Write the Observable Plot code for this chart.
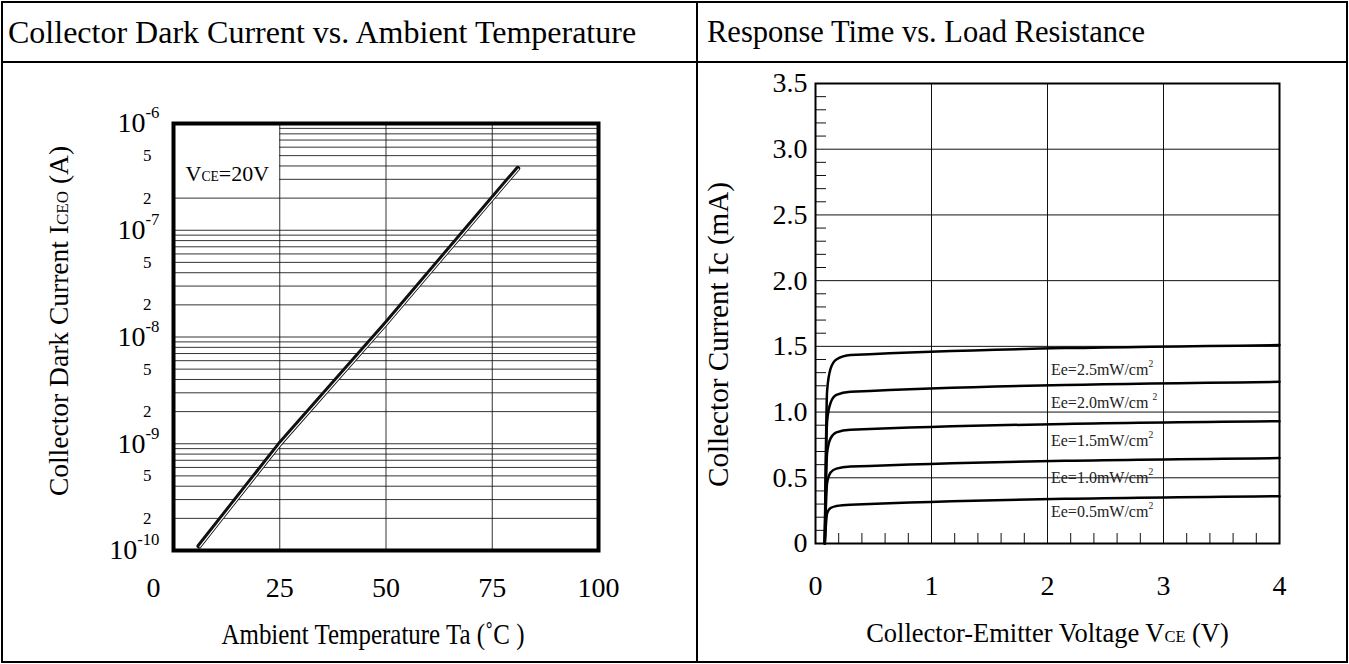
<!DOCTYPE html>
<html><head><meta charset="utf-8">
<script src="https://cdn.jsdelivr.net/npm/d3@7"></script>
<script src="https://cdn.jsdelivr.net/npm/@observablehq/plot@0.6"></script>
<style>
body{margin:0;background:#fff;font-family:"Liberation Serif","Times New Roman",serif;color:#000}
#wrap{position:relative;width:1349px;height:664px;overflow:hidden;background:#fff}
.box{position:absolute;left:1px;top:1px;width:1343px;height:658px;border:2px solid #000}
.hline{position:absolute;left:1px;top:61px;width:1347px;height:2px;background:#000}
.vline{position:absolute;left:696px;top:1px;width:2px;height:662px;background:#000}
.title{position:absolute;top:14px;font-size:32px;line-height:36px;white-space:nowrap}
#left{position:absolute;left:0;top:62px}
#right{position:absolute;left:697px;top:62px}
</style></head>
<body>
<div id="wrap">
  <div class="box"></div>
  <div class="hline"></div>
  <div class="vline"></div>
  <div class="title" style="left:8px">Collector Dark Current vs. Ambient Temperature</div>
  <div class="title" style="left:707px;font-size:30.5px">Response Time vs. Load Resistance</div>
  <div id="left"></div>
  <div id="right"></div>
</div>
<script>
// ---------- Left chart data ----------
const tempC = [6, 25, 50, 75, 81];
const darkCurrentA = [1.1e-10, 1e-9, 1.35e-8, 2e-7, 3.8e-7];
const tempTicks = [0, 25, 50, 75, 100];
const tempGrid = [25, 50, 75];
const decadeTicks = [1e-10, 1e-9, 1e-8, 1e-7, 1e-6];
const mantissaLabels = [2, 5];
const mantissaGrid = [1, 2, 3, 4, 5, 6, 7, 8, 9];

// ---------- Right chart data ----------
const vceV = [0.08, 0.10, 0.13, 0.18, 0.30, 4.0];
const icEe25 = [0, 1.16, 1.33, 1.40, 1.435, 1.51];
const icEe20 = [0, 0.93, 1.07, 1.13, 1.155, 1.23];
const icEe15 = [0, 0.69, 0.80, 0.845, 0.865, 0.93];
const icEe10 = [0, 0.46, 0.54, 0.57, 0.585, 0.65];
const icEe05 = [0, 0.23, 0.27, 0.285, 0.295, 0.36];
const eeLabels = ["Ee=2.5mW/cm^{2}", "Ee=2.0mW/cm ^{2}", "Ee=1.5mW/cm^{2}", "Ee=1.0mW/cm^{2}", "Ee=0.5mW/cm^{2}"];
const vceTicks = [0, 1, 2, 3, 4];
const vceGrid = [1, 2, 3];
const vceMinor = [0.2, 0.4, 0.6, 0.8, 1.2, 1.4, 1.6, 1.8, 2.2, 2.4, 2.6, 2.8, 3.2, 3.4, 3.6, 3.8];
const icTicks = [0, 0.5, 1.0, 1.5, 2.0, 2.5, 3.0, 3.5];
const icGrid = [0.5, 1.0, 1.5, 2.0, 2.5, 3.0];
const icMinor = [0.1,0.2,0.3,0.4,0.6,0.7,0.8,0.9,1.1,1.2,1.3,1.4,1.6,1.7,1.8,1.9,2.1,2.2,2.3,2.4,2.6,2.7,2.8,2.9,3.1,3.2,3.3,3.4];

// ---------- helpers ----------
function richify(svg){
  d3.select(svg).selectAll("text").each(function(){
    const el = this;
    const t = el.textContent;
    if (!/[_^]\{/.test(t)) return;
    const fs = parseFloat(getComputedStyle(el).fontSize);
    el.textContent = "";
    const re = /([_^])\{([^}]*)\}/g;
    let last = 0, m, raised = 0;
    const add = (txt, opts) => {
      const ts = document.createElementNS("http://www.w3.org/2000/svg", "tspan");
      ts.textContent = txt;
      if (opts.size) ts.setAttribute("font-size", opts.size);
      if (opts.dy) ts.setAttribute("dy", opts.dy);
      el.appendChild(ts);
    };
    while ((m = re.exec(t))) {
      if (m.index > last) { add(t.slice(last, m.index), {dy: raised}); raised = 0; }
      if (m[1] === "_") { add(m[2], {size: fs * 0.62, dy: raised}); raised = 0; }
      else { add(m[2], {size: fs * 0.6, dy: -fs * 0.5}); raised = fs * 0.5; }
      last = re.lastIndex;
    }
    if (last < t.length) add(t.slice(last), {dy: raised});
  });
}
// condense a plain text to a given length (the reference uses a narrow serif)
function fitText(svg, prefix, length){
  d3.select(svg).selectAll("text").each(function(){
    if (this.textContent.startsWith(prefix)) {
      this.setAttribute("textLength", length);
      this.setAttribute("lengthAdjust", "spacingAndGlyphs");
    }
  });
}

const serif = "'Liberation Serif', 'Times New Roman', serif";

// ---------- Left chart ----------
const darkRows = tempC.map((t, i) => ({t, i: darkCurrentA[i]}));
const decLow = decadeTicks.slice(0, -1);
const gridVals = decLow.flatMap(d => mantissaGrid.map(m => m * d));
const smallLabels = decLow.flatMap(d => mantissaLabels.map(m => ({v: m * d, m})));

const left = Plot.plot({
  width: 690, height: 600,
  marginLeft: 173, marginRight: 92, marginTop: 61, marginBottom: 112,
  x: {domain: [0, 100], axis: null},
  y: {type: "log", domain: [1e-10, 1e-6], axis: null},
  style: {fontFamily: serif, background: "transparent", color: "#000", overflow: "visible"},
  marks: [
    Plot.ruleY(gridVals, {y: d => d, x1: d => (d > 2.5e-7 ? 25 : 0), x2: 100, stroke: "#111", strokeOpacity: 0.85, strokeWidth: 1}),
    Plot.ruleX(tempGrid, {x: d => d, stroke: "#111", strokeOpacity: 0.85, strokeWidth: 1}),
    Plot.frame({stroke: "#000", strokeWidth: 4}),
    Plot.line(darkRows, {x: "t", y: "i", stroke: "#111", strokeWidth: 5}),
    Plot.line(darkRows, {x: "t", y: "i", stroke: "#fff", strokeWidth: 1.2, dx: 0.8, dy: 0.7}),
    Plot.text(["V_{CE}=20V"], {frameAnchor: "top-left", text: d => d, textAnchor: "start", dx: 12, dy: 42, fontSize: 22}),
    Plot.text(decadeTicks, {y: d => d, text: d => `10^{${Math.round(Math.log10(d))}}`, frameAnchor: "left", textAnchor: "end", dx: -14, fontSize: 28}),
    Plot.text(smallLabels, {y: "v", text: d => String(d.m), frameAnchor: "left", textAnchor: "end", dx: -22, fontSize: 17}),
    Plot.text(tempTicks.filter(d => d > 0), {x: d => d, text: d => String(d), frameAnchor: "bottom", dy: 46, fontSize: 28}),
    Plot.text(tempTicks.filter(d => d === 0), {x: d => d, text: d => String(d), frameAnchor: "bottom", dy: 46, dx: -20, fontSize: 28}),
    Plot.text(["Ambient Temperature Ta (˚C )"], {frameAnchor: "bottom", text: d => d, dy: 93, dx: -13, fontSize: 30}),
    Plot.text(["Collector Dark Current I_{CEO} (A)"], {frameAnchor: "left", text: d => d, textAnchor: "middle", rotate: -90, dx: -114, dy: -16, fontSize: 27.5})
  ]
});
document.getElementById("left").appendChild(left);
richify(left);
fitText(left, "Ambient", 303);

// ---------- Right chart ----------
const series = [
  {ee: "2.5", ic: icEe25}, {ee: "2.0", ic: icEe20}, {ee: "1.5", ic: icEe15},
  {ee: "1.0", ic: icEe10}, {ee: "0.5", ic: icEe05}
];
const curveRows = series.flatMap(s => vceV.map((v, i) => ({vce: v, ic: s.ic[i], ee: s.ee})));
const labelY = [1.32, 1.07, 0.78, 0.50, 0.24];
const labelRows = eeLabels.map((text, i) => ({text, x: 2.03, y: labelY[i]}));

const right = Plot.plot({
  width: 650, height: 600,
  marginLeft: 118, marginRight: 68, marginTop: 21, marginBottom: 119,
  x: {domain: [0, 4], axis: null},
  y: {domain: [0, 3.5], axis: null},
  style: {fontFamily: serif, background: "transparent", color: "#000", overflow: "visible"},
  marks: [
    Plot.ruleX(vceGrid, {x: d => d, stroke: "#111", strokeWidth: 1}),
    Plot.ruleY(icGrid, {y: d => d, stroke: "#111", strokeWidth: 1}),
    Plot.axisY({ticks: icMinor, anchor: "left", tickSize: -11, tickFormat: () => "", stroke: "#111"}),
    Plot.axisX({ticks: vceMinor, anchor: "bottom", tickSize: -10, tickFormat: () => "", stroke: "#111"}),
    Plot.frame({stroke: "#000", strokeWidth: 2}),
    Plot.line(curveRows, {x: "vce", y: "ic", z: "ee", stroke: "#000", strokeWidth: 2.5, curve: "monotone-x"}),
    Plot.text(labelRows, {x: "x", y: "y", text: "text", textAnchor: "start", fontSize: 16, fill: "#222"}),
    Plot.text(icTicks, {y: d => d, text: d => (d === 0 ? "0" : d.toFixed(1)), frameAnchor: "left", textAnchor: "end", dx: -8, fontSize: 28}),
    Plot.text(vceTicks, {x: d => d, text: d => String(d), frameAnchor: "bottom", dy: 51, fontSize: 28}),
    Plot.text(["Collector-Emitter Voltage V_{CE} (V)"], {frameAnchor: "bottom", text: d => d, dy: 98, fontSize: 26.5}),
    Plot.text(["Collector Current Ic (mA)"], {frameAnchor: "left", text: d => d, textAnchor: "middle", rotate: -90, dx: -97, dy: 21, fontSize: 30})
  ]
});
document.getElementById("right").appendChild(right);
richify(right);
fitText(right, "Collector Current", 305);
</script>
</body></html>
